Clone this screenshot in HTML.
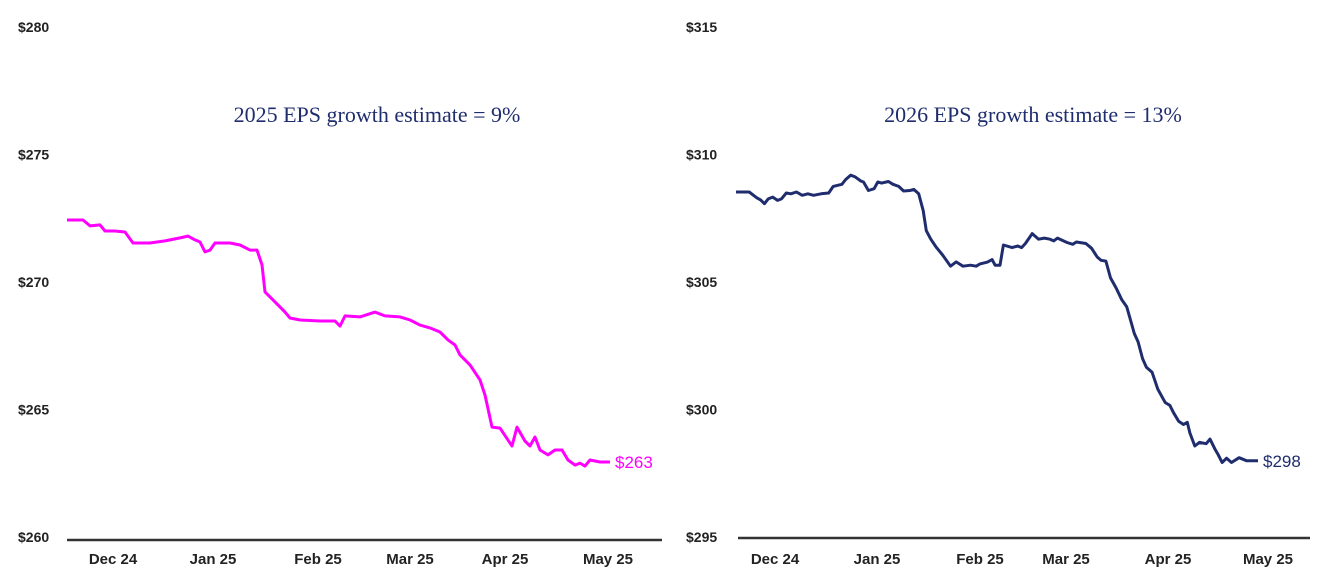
<!DOCTYPE html>
<html><head><meta charset="utf-8"><style>
body{margin:0;background:#fff;}
svg text{font-family:"Liberation Sans",Arial,sans-serif;}
.tick{font-size:14px;font-weight:bold;fill:#222;}
.xl{font-size:15px;font-weight:bold;fill:#222;}
.title{font-family:"Liberation Serif",serif !important;font-size:22px;fill:#1f2d6e;}
</style></head><body>
<svg id="c" width="1322" height="581" viewBox="0 0 1322 581" xmlns="http://www.w3.org/2000/svg"></svg>
<script>
const monthLabels=["Dec 24","Jan 25","Feb 25","Mar 25","Apr 25","May 25"];
const leftTicks=[280,275,270,265,260];
const rightTicks=[315,310,305,300,295];
const leftDays=[0,4,5.75,8.25,9.5,12,14.5,16.5,20.75,24.5,28.25,30.25,32,33.25,34.5,35.75,37,40.75,43.25,45.75,47.5,48.75,49.5,52,54.5,55.75,58.25,63.25,67,68.25,69.5,73.25,77,79.5,83.25,85.75,88.25,90.75,93.25,95.25,97,98.25,100.75,103.25,104.5,106.25,108.25,110.25,111.25,112.5,114.5,115.75,117,118.25,120.25,122,123.75,125.25,127,128.25,129.5,130.75,133.25,135.75];
const leftValues=[272.43,272.43,272.2,272.24,272.0,272.0,271.96,271.53,271.53,271.61,271.73,271.8,271.65,271.57,271.18,271.25,271.53,271.53,271.45,271.25,271.25,270.67,269.61,269.22,268.82,268.59,268.51,268.47,268.47,268.27,268.67,268.63,268.82,268.67,268.63,268.51,268.31,268.2,268.04,267.73,267.53,267.14,266.75,266.16,265.57,264.31,264.27,263.8,263.57,264.31,263.76,263.57,263.92,263.41,263.22,263.41,263.41,263.02,262.82,262.9,262.78,263.02,262.94,262.94];
const rightDays=[0,3.5,5.5,6.5,7.5,8.5,9.7,11,12,13.3,14.5,16,17.5,19,20.5,22.5,24.5,25.7,28,29,30.3,31.5,33,33.7,35,36.5,37.5,38.5,40.3,41.5,43,44.3,46,47,48.3,49.5,50.3,51.5,53,54.5,55.5,56.7,58.2,60,62,63.5,64.5,66.5,67.7,68.5,69.8,70.7,73,74.5,75.5,76.5,78.3,80,81.5,83,84,85,87.5,89,90,92.5,94,95.5,96.5,97.8,99,100.5,102,103.3,104.3,105.3,106.3,107.5,108.5,110,111.5,113,113.5,114.7,115.7,117,118.3,119.3,120,121.3,122.5,124.3,125.3,126.7,127.5,128.5,129.7,131,133,135,138];
const rightValues=[308.53,308.53,308.30,308.22,308.07,308.26,308.33,308.20,308.26,308.49,308.46,308.53,308.40,308.46,308.40,308.46,308.49,308.75,308.83,309.02,309.19,309.12,308.96,308.92,308.59,308.66,308.92,308.88,308.94,308.83,308.75,308.57,308.59,308.63,308.46,307.80,307.01,306.68,306.35,306.08,305.88,305.62,305.79,305.62,305.66,305.62,305.71,305.78,305.88,305.66,305.66,306.45,306.35,306.41,306.35,306.51,306.90,306.68,306.72,306.68,306.61,306.72,306.55,306.48,306.57,306.51,306.32,305.98,305.85,305.82,305.16,304.76,304.30,304.03,303.51,302.98,302.65,301.99,301.66,301.46,300.80,300.40,300.27,300.16,299.87,299.54,299.41,299.50,299.08,298.57,298.71,298.66,298.84,298.42,298.22,297.92,298.09,297.92,298.11,297.99,297.99];
const NS="http://www.w3.org/2000/svg";
const svg=document.getElementById('c');
function mk(t,a,txt){const e=document.createElementNS(NS,t);for(const k in a)e.setAttribute(k,a[k]);if(txt!=null)e.textContent=txt;svg.appendChild(e);return e;}
function chart(o){
  const y=v=>o.yTop+(o.tMax-v)*o.ppd;
  const x=d=>o.x0+(d-o.dMin)/(o.dMax-o.dMin)*(o.x1-o.x0);
  o.ticks.forEach(t=>{const e=mk('text',{x:o.tickX,y:y(t)+5,class:'tick'},'$'+t);
    
    });
  const ax=mk('line',{x1:o.ax0,x2:o.ax1,y1:o.axY,y2:o.axY,stroke:'#333','stroke-width':2.5});
  
  
  monthLabels.forEach((m,i)=>{const e=mk('text',{x:o.mx[i],y:564,class:'xl','text-anchor':'middle'},m);
    
    });
  const tt=mk('text',{x:o.titleX,y:122,class:'title','text-anchor':'middle'},o.title);
  
  
  const pts=o.days.map((d,i)=>x(d).toFixed(1)+','+y(o.vals[i]).toFixed(1)).join(' ');
  const pl=mk('polyline',{points:pts,fill:'none',stroke:o.color,'stroke-width':3,'stroke-linejoin':'round'});
  
  
  const last=o.vals[o.vals.length-1];
  const lb=mk('text',{x:x(o.days[o.days.length-1])+5,y:y(last)+6,fill:o.color,'font-size':17},'$'+Math.round(last));
  
  
}
chart({ticks:leftTicks,tMax:280,yTop:27,ppd:25.5,tickX:18,x0:67,x1:610,dMin:0,dMax:135.75,days:leftDays,vals:leftValues,color:'#ff00ff',ax0:67,ax1:662,axY:540,mx:[113,213,318,410,505,608],title:'2025 EPS growth estimate = 9%',titleX:377});
chart({ticks:rightTicks,tMax:315,yTop:27,ppd:25.5,tickX:686,x0:736,x1:1258,dMin:0,dMax:138,days:rightDays,vals:rightValues,color:'#1f2d6e',ax0:738,ax1:1310,axY:538,mx:[775,877,980,1066,1168,1268],title:'2026 EPS growth estimate = 13%',titleX:1033});
</script>
</body></html>
